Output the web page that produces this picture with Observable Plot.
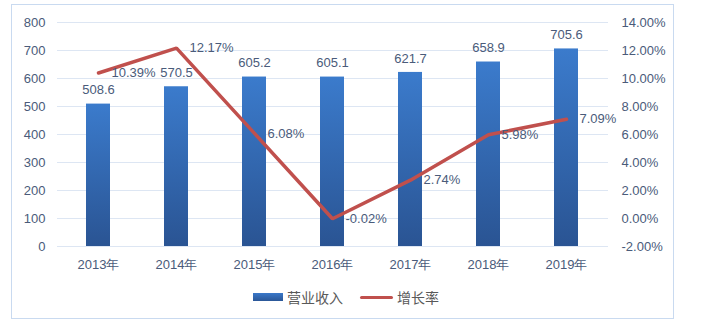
<!DOCTYPE html>
<html>
<head>
<meta charset="utf-8">
<script src="https://cdn.jsdelivr.net/npm/d3@7"></script>
<script src="https://cdn.jsdelivr.net/npm/@observablehq/plot@0.6"></script>
<style>
  html, body { margin: 0; padding: 0; background: #fff; }
  #wrap { position: relative; width: 708px; height: 327px; overflow: hidden; }
  #frame { position: absolute; left: 11px; top: 4px; width: 663px; height: 315px; border: 1px solid #c9daf0; box-sizing: border-box; pointer-events: none; }
  #legend { position: absolute; top: 287px; left: 0; width: 708px; height: 20px; font-family: "Noto Sans CJK SC", sans-serif; font-size: 14px; color: #595959; }
  .lg { position: absolute; top: 0; line-height: 20px; }
</style>
</head>
<body>
<div id="wrap">
  <div id="chart"></div>
  <div id="frame"></div>
  <div id="legend">
    <div class="lg" style="left:253px;top:6px;width:30px;height:8px;background:linear-gradient(#3a78c9,#2b5797);"></div>
    <div class="lg" style="left:287px;">营业收入</div>
    <div class="lg" style="left:360px;top:9px;width:33px;height:3px;background:#c0504d;border-radius:2px;"></div>
    <div class="lg" style="left:397px;">增长率</div>
  </div>
</div>
<script>
const years = ["2013年", "2014年", "2015年", "2016年", "2017年", "2018年", "2019年"];
const revenue = [508.6, 570.5, 605.2, 605.1, 621.7, 658.9, 705.6];
const growth = [10.39, 12.17, 6.08, -0.02, 2.74, 5.98, 7.09];
const leftTicks = [0, 100, 200, 300, 400, 500, 600, 700, 800];
const rightTicks = [-2, 0, 2, 4, 6, 8, 10, 12, 14];

// map growth rate (%) onto the revenue axis: -2% -> 0, 14% -> 800
const toLeft = r => (r + 2) * 50;

const bars = years.map((y, i) => ({year: y, value: revenue[i]}));
const rates = years.map((y, i) => ({year: y, rate: growth[i], pos: toLeft(growth[i])}));

const textColor = "#4a5b7a";
const font = "Liberation Sans, Arial, sans-serif";

const chart = Plot.plot({
  width: 708,
  height: 327,
  marginLeft: 57,
  marginRight: 100,
  marginTop: 22,
  marginBottom: 81,
  style: {fontFamily: font, fontSize: "13px", color: textColor, background: "transparent", overflow: "visible"},
  x: {domain: years, paddingInner: 0.69, paddingOuter: 0.345, label: null},
  y: {domain: [0, 800], label: null},
  marks: [
    Plot.ruleY(leftTicks, {stroke: "#dde6f3", strokeWidth: 1}),
    Plot.axisY({ticks: leftTicks, tickSize: 0, tickPadding: 12, label: null, anchor: "left", fill: textColor}),
    Plot.axisY({ticks: rightTicks.map(toLeft), tickSize: 0, tickPadding: 13, label: null, anchor: "right",
      tickFormat: v => (v / 50 - 2).toFixed(2) + "%", textAnchor: "start", fill: textColor}),
    Plot.axisX({tickSize: 0, tickPadding: 13, label: null, fill: textColor}),
    Plot.barY(bars, {x: "year", y: "value", fill: "url(#barGrad)", filter: null}),
    Plot.text(bars, {x: "year", y: "value", text: d => d.value.toFixed(1), dy: -14, fill: textColor, fontSize: 13}),
    Plot.line(rates, {x: "year", y: "pos", stroke: "#c0504d", strokeWidth: 3.5, strokeLinejoin: "miter"}),
    Plot.text(rates, {x: "year", y: "pos", text: d => d.rate.toFixed(2) + "%", dx: 13, textAnchor: "start", fill: textColor, fontSize: 13})
  ]
});

const ns = "http://www.w3.org/2000/svg";
const defs = document.createElementNS(ns, "defs");
defs.innerHTML = `<linearGradient id="barGrad" x1="0" y1="0" x2="0" y2="1">
  <stop offset="0%" stop-color="#3b7bcc"/><stop offset="100%" stop-color="#2a5493"/></linearGradient>`;
chart.insertBefore(defs, chart.firstChild);
document.getElementById("chart").appendChild(chart);
</script>
</body>
</html>
